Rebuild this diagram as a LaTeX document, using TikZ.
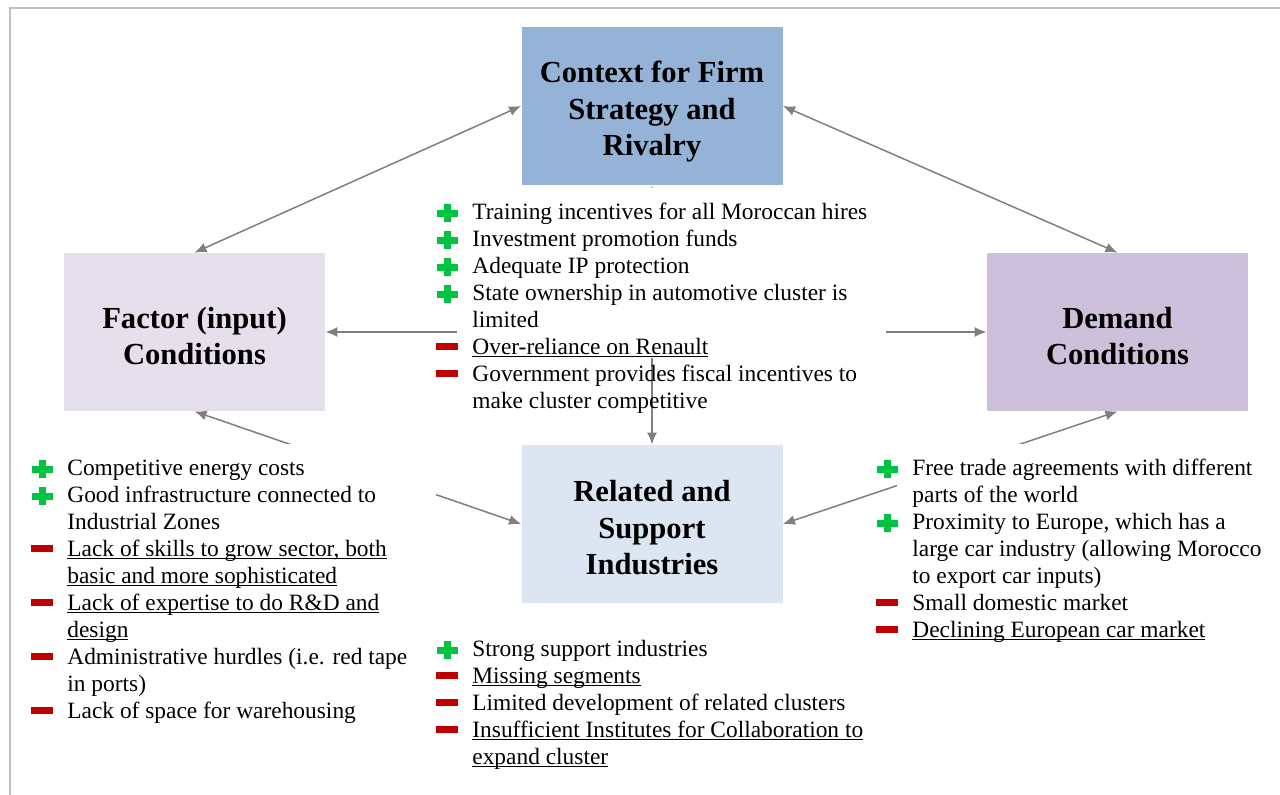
\documentclass[tikz,border=0pt]{standalone}
\usepackage{fontspec}
\setmainfont{Liberation Serif}
\usepackage{tikz}
\usetikzlibrary{arrows.meta}

\definecolor{ctxblue}{HTML}{95B3D7}
\definecolor{factorlilac}{HTML}{E5E0EC}
\definecolor{demandlilac}{HTML}{CCC0DA}
\definecolor{relatedblue}{HTML}{DCE6F2}
\definecolor{arrowgray}{HTML}{7F7F7F}
\definecolor{framegray}{HTML}{BFBFBF}
\definecolor{progreen}{RGB}{0,196,64}
\definecolor{conred}{HTML}{C00000}

% plus and minus marks in front of the list items
\newcommand{\pro}{\strut\llap{\textcolor{progreen}{\rlap{\rule[1.25pt]{10.5pt}{3.5pt}}\hspace{3.5pt}\rule[-1.5pt]{3.5pt}{9pt}\hspace{3.5pt}}\hspace{7pt}}}
\newcommand{\con}{\strut\llap{\textcolor{conred}{\rule[2pt]{11pt}{3.5pt}}\hspace{7pt}}}
\newcommand{\ulin}[1]{\setbox0=\hbox{#1}\rlap{\rule[-1.6pt]{\wd0}{0.55pt}}\box0}
% pushes the title of a box a little down
\newcommand{\lift}[1]{\rule{0pt}{#1}}

\tikzset{
  box/.style={minimum width=130.5pt, minimum height=79pt, inner sep=0pt, align=center,
    font=\fontsize{15.3}{18.25}\selectfont\bfseries},
  list/.style={anchor=north west, inner sep=0pt, align=left,
    font=\fontsize{11.7}{13.5}\selectfont},
  link/.style={arrowgray, line width=0.75pt,
    {Latex[length=6pt,width=5pt]}-{Latex[length=6pt,width=5pt]}}
}

\begin{document}
\begin{tikzpicture}[x=0.5pt,y=-0.5pt]
  \useasboundingbox (0,0) rectangle (1280,795);

  % the four corners of the diamond
  \node[box, fill=ctxblue] (ctx) at (652,106) {\lift{16.6pt}Context for Firm\\Strategy and\\Rivalry};
  \node[box, fill=factorlilac] (factor) at (194.5,332) {\lift{14.6pt}Factor (input)\\Conditions};
  \node[box, fill=demandlilac] (demand) at (1117.5,332) {\lift{14.6pt}Demand\\Conditions};
  \node[box, fill=relatedblue] (related) at (652,524) {\lift{14.6pt}Related and\\Support\\Industries};

  \draw[link] (ctx.west) -- (factor.north);
  \draw[link] (ctx.east) -- (demand.north);
  \draw[link] (factor.east) -- (demand.west);
  \draw[link] (ctx.south) -- (related.north);
  \draw[link] (factor.south) -- (related.west);
  \draw[link] (demand.south) -- (related.east);

  % text areas hide the middle of the links
  \begin{scope}[white]
    \fill (457,188) rectangle (886,358);
    \fill (20,444) rectangle (436,795);
    \fill (897,444) rectangle (1280,795);
  \end{scope}

  \node[list] (ctxlist) at (472,200) {\pro Training incentives for all Moroccan hires\\
    \pro Investment promotion funds\\
    \pro Adequate IP protection\\
    \pro State ownership in automotive cluster is\\
    limited\\
    \con \ulin{Over-reliance on Renault}\\
    \con Government provides fiscal incentives to\\
    make cluster competitive};

  \node[list] (factorlist) at (67,456) {\pro Competitive energy costs\\
    \pro Good infrastructure connected to\\
    Industrial Zones\\
    \con \ulin{Lack of skills to grow sector, both}\\
    \ulin{basic and more sophisticated}\\
    \con \ulin{Lack of expertise to do R\&D and}\\
    \ulin{design}\\
    \con Administrative hurdles (i.e. red tape\\
    in ports)\\
    \con Lack of space for warehousing};

  \node[list] (demandlist) at (912,456) {\pro Free trade agreements with different\\
    parts of the world\\
    \pro Proximity to Europe, which has a\\
    large car industry (allowing Morocco\\
    to export car inputs)\\
    \con Small domestic market\\
    \con \ulin{Declining European car market}};

  \node[list] (relatedlist) at (472,637) {\pro Strong support industries\\
    \con \ulin{Missing segments}\\
    \con Limited development of related clusters\\
    \con \ulin{Insufficient Institutes for Collaboration to}\\
    \ulin{expand cluster}};

  \draw[framegray, line width=0.85pt] (1280,8) -- (10,8) -- (10,795);
\end{tikzpicture}
\end{document}
